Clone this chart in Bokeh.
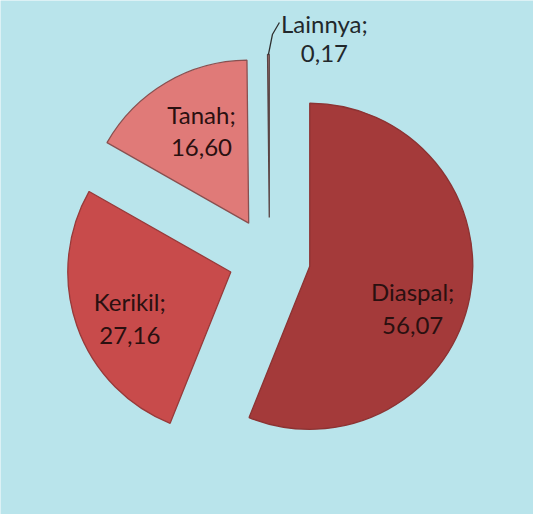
import math
from bokeh.plotting import figure
from bokeh.models import ColumnDataSource, Range1d
from bokeh.core.properties import value
from bokeh.embed import file_html
from bokeh.resources import INLINE

# ---- data ----
categories = ["Diaspal", "Kerikil", "Tanah", "Lainnya"]
shares = [56.07, 27.16, 16.60, 0.17]
value_labels = ["56,07", "27,16", "16,60", "0,17"]

# ---- layout / style ----
PAGE_H = 530
W, H = 533, 514
CX, CY = 277, PAGE_H - 266      # pie centre (page px, y up)
R = 163                          # radius
EXPLODE = 41                     # explosion offset
fill_colors = ["#a43a3a", "#c84b4b", "#e07a78", "#c98a86"]
line_colors = ["#8c3333", "#983a3a", "#8a5050", "#5a4444"]
label_ang = [112, 245.5, 333]    # clockwise from top, degrees
label_rad = [111, 111, 104]
FONT = "Lato"
FS = "24px"

total = sum(shares)
starts, ends, xs, ys = [], [], [], []
cum = 0.0
for s in shares:
    a0 = cum / total * 2 * math.pi
    cum += s
    a1 = cum / total * 2 * math.pi
    mid = (a0 + a1) / 2
    phi_mid = math.pi / 2 - mid
    xs.append(CX + EXPLODE * math.cos(phi_mid))
    ys.append(CY + EXPLODE * math.sin(phi_mid))
    starts.append(math.pi / 2 - a0)
    ends.append(math.pi / 2 - a1)

src = ColumnDataSource(dict(x=xs, y=ys, start=starts, end=ends,
                            fill=fill_colors, line=line_colors, cat=categories))

p = figure(width=W, height=H, output_backend="svg", toolbar_location=None,
           x_range=Range1d(8, 8 + W), y_range=Range1d(PAGE_H - 8 - H, PAGE_H - 8),
           min_border=0)
p.axis.visible = False
p.grid.visible = False
p.outline_line_color = None
p.background_fill_color = "#b9e4eb"
p.border_fill_color = "#b9e4eb"

p.wedge(x="x", y="y", radius=R, start_angle="start", end_angle="end",
        direction="clock", fill_color="fill", line_color="line",
        line_width=1.3, source=src)

# labels inside big slices
lx, ly, lt = [], [], []
for i in range(3):
    th = math.radians(label_ang[i])
    phi = math.pi / 2 - th
    lx.append(xs[i] + label_rad[i] * math.cos(phi))
    ly.append(ys[i] + label_rad[i] * math.sin(phi))
    lt.append(categories[i] + ";\n" + value_labels[i])
p.text(x=lx, y=ly, text=lt, text_align="center", text_baseline="middle",
       text_font=value(FONT), text_font_size=FS, text_color="#2a1010",
       text_line_height=1.12)

# small slice: leader line and outside label
i = 3
phi_mid = math.pi / 2 - (sum(shares[:3]) + shares[3] / 2) / total * 2 * math.pi
tip_x = xs[i] + R * math.cos(phi_mid)
tip_y = ys[i] + R * math.sin(phi_mid)
p.line(x=[tip_x, tip_x + 4, tip_x + 11], y=[tip_y, tip_y + 20, tip_y + 32],
       line_color="#2e2e2e", line_width=1.3)
p.text(x=[tip_x + 56], y=[tip_y + 17], text=[categories[i] + ";\n" + value_labels[i]],
       text_align="center", text_baseline="middle", text_font=value(FONT),
       text_font_size=FS, text_color="#22282c", text_line_height=1.0)

open("out.html", "w").write(file_html(p, INLINE))
